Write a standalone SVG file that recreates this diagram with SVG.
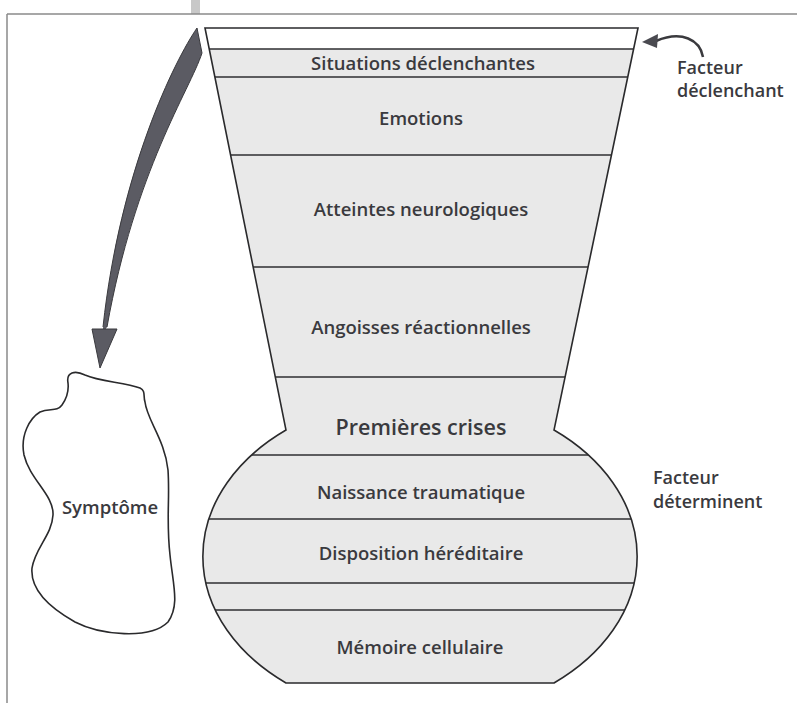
<svg xmlns="http://www.w3.org/2000/svg" width="797" height="703" viewBox="0 0 797 703">
<style>
.lbl{font-family:"Open Sans","Liberation Sans",sans-serif;font-weight:600;fill:#3a3a3e;text-anchor:middle;font-size:18.5px}
.side{font-family:"Open Sans","Liberation Sans",sans-serif;font-weight:600;fill:#3a3a3e;font-size:18px}
.div{stroke:#2e2e30;stroke-width:1.6;fill:none}
.edge{stroke:#2a2a2c;stroke-width:1.6;fill:none}
</style>
<defs>
<clipPath id="vaseClip">
<path d="M205,28 L638,28 L554,430 A218,161 0 0 1 554,683 L286,683 A218,161 0 0 1 286,430 Z"/>
</clipPath>
</defs>
<rect width="797" height="703" fill="#ffffff"/>
<rect x="191" y="0" width="9" height="14" fill="#c8c8c8"/>
<g id="frame">
<line x1="7" y1="14" x2="797" y2="14" stroke="#8a8a8a" stroke-width="1.5"/>
<line x1="7" y1="14" x2="7" y2="703" stroke="#8a8a8a" stroke-width="1.5"/>
</g>
<g id="vase">
<path d="M205,28 L638,28 L554,430 A218,161 0 0 1 554,683 L286,683 A218,161 0 0 1 286,430 Z" fill="#e9e9e9"/>
<polygon points="205,28 638,28 634,49 209,49" fill="#ffffff"/>
<g clip-path="url(#vaseClip)" class="div">
<line x1="190" y1="49" x2="650" y2="49"/>
<line x1="190" y1="77" x2="650" y2="77"/>
<line x1="190" y1="155" x2="650" y2="155"/>
<line x1="190" y1="267" x2="650" y2="267"/>
<line x1="190" y1="377" x2="650" y2="377"/>
<line x1="190" y1="455" x2="650" y2="455"/>
<line x1="190" y1="519" x2="650" y2="519"/>
<line x1="190" y1="583" x2="650" y2="583"/>
<line x1="190" y1="610" x2="650" y2="610"/>
</g>
<path class="edge" d="M205,28 L638,28 L554,430 A218,161 0 0 1 554,683 L286,683 A218,161 0 0 1 286,430 Z"/>
</g>
<g id="layer-situations"><text class="lbl" x="423" y="70">Situations déclenchantes</text></g>
<g id="layer-emotions"><text class="lbl" x="421" y="125">Emotions</text></g>
<g id="layer-atteintes"><text class="lbl" x="421" y="216">Atteintes neurologiques</text></g>
<g id="layer-angoisses"><text class="lbl" x="421" y="334">Angoisses réactionnelles</text></g>
<g id="layer-premieres"><text class="lbl" x="421" y="435" style="font-size:21.5px">Premières crises</text></g>
<g id="layer-naissance"><text class="lbl" x="421" y="499">Naissance traumatique</text></g>
<g id="layer-disposition"><text class="lbl" x="421" y="560">Disposition héréditaire</text></g>
<g id="layer-memoire"><text class="lbl" x="420" y="654">Mémoire cellulaire</text></g>
<g id="symptome">
<path d="M68,383 C66,372 75,370 85,375 C100,382 125,382 140,388 C146,391 143,396 145,402 C147,420 165,440 168,470 C170,500 166,520 170,555 C173,585 180,605 168,622 C150,640 100,635 75,622 C50,608 30,590 32,568 C35,548 52,535 53,515 C54,495 30,480 24,455 C20,435 30,418 40,412 C50,408 57,412 62,405 C67,398 69,392 68,383 Z" fill="#ffffff" stroke="#2a2a2c" stroke-width="1.6"/>
<text class="lbl" x="110" y="514">Symptôme</text>
</g>
<g id="facteur-declenchant">
<text class="side" x="677" y="74">Facteur</text>
<text class="side" x="677" y="97">déclenchant</text>
</g>
<g id="facteur-determinent">
<text class="side" x="653" y="484">Facteur</text>
<text class="side" x="653" y="508">déterminent</text>
</g>
<g id="connectors">
<path d="M197,28 C175,60 120,170 103,327 L107,327 C135,170 190,90 202,53 Z" fill="#5b5b63" stroke="#3a3a3e" stroke-width="1"/>
<line x1="105" y1="326" x2="104" y2="331" stroke="#5b5b63" stroke-width="3"/>
<polygon points="92,329 117,329 100,368" fill="#5b5b63" stroke="#3a3a3e" stroke-width="1"/>
<path d="M703,57 C700,40 682,30 656,41" fill="none" stroke="#3a3a3e" stroke-width="2.5"/>
<polygon points="642,42 658,34 657,48" fill="#4a4a50"/>
</g>
</svg>
